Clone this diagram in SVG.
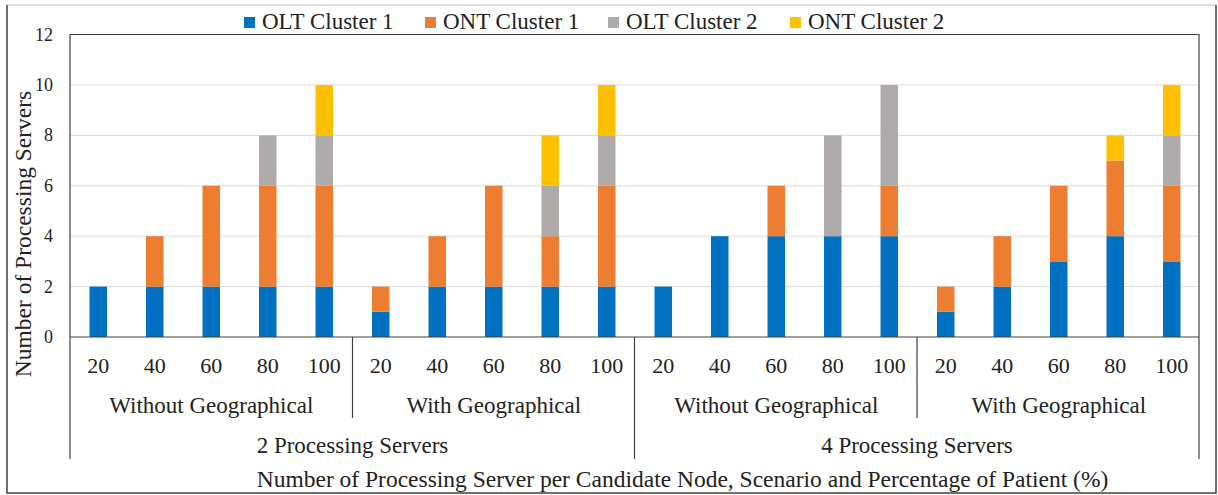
<svg xmlns="http://www.w3.org/2000/svg" width="1218" height="495" viewBox="0 0 1218 495" font-family="'Liberation Serif', Tinos, 'Times New Roman', 'DejaVu Serif', serif">
<style>
text{font-family:'Liberation Serif',Tinos,'Times New Roman','DejaVu Serif',serif;fill:#222}
.yt{font-size:18px;text-anchor:end}
.xt{font-size:22px;text-anchor:middle}
.gl{font-size:23px;text-anchor:middle}
.lg{font-size:23px}
.ttl{font-size:23.5px;text-anchor:middle}
.grid{stroke:#d9d9d9;stroke-width:1}
.ax{stroke:#404040;stroke-width:1.2;fill:none}
.b{fill:#0070C0}.o{fill:#ED7D31}.g{fill:#AEAAAA}.y{fill:#FFC000}
</style>
<rect x="0" y="0" width="1218" height="495" fill="#fff"/>
<g id="frame">
<line x1="7" y1="5" x2="1216" y2="5" stroke="#d0d0d0" stroke-width="1.5"/>
<path d="M7 5 V493 H1216 V5" fill="none" stroke="#404040" stroke-width="1.5"/>
</g>
<g id="gridlines">
<line class="grid" x1="70" y1="286.6" x2="1199" y2="286.6"/>
<line class="grid" x1="70" y1="236.2" x2="1199" y2="236.2"/>
<line class="grid" x1="70" y1="185.8" x2="1199" y2="185.8"/>
<line class="grid" x1="70" y1="135.4" x2="1199" y2="135.4"/>
<line class="grid" x1="70" y1="85" x2="1199" y2="85"/>
</g>
<g id="legend">
<rect class="b" x="244" y="17" width="11" height="11"/><text class="lg" x="262" y="29">OLT Cluster 1</text>
<rect class="o" x="425" y="17" width="11" height="11"/><text class="lg" x="443" y="29">ONT Cluster 1</text>
<rect class="g" x="608" y="17" width="11" height="11"/><text class="lg" x="626" y="29">OLT Cluster 2</text>
<rect class="y" x="790" y="17" width="11" height="11"/><text class="lg" x="808" y="29">ONT Cluster 2</text>
</g>
<g id="bars">
<rect class="b" x="89.5" y="286.6" width="17.5" height="50.4"/>
<rect class="b" x="146" y="286.6" width="17.5" height="50.4"/><rect class="o" x="146" y="236.2" width="17.5" height="50.4"/>
<rect class="b" x="202.5" y="286.6" width="17.5" height="50.4"/><rect class="o" x="202.5" y="185.8" width="17.5" height="100.8"/>
<rect class="b" x="259" y="286.6" width="17.5" height="50.4"/><rect class="o" x="259" y="185.8" width="17.5" height="100.8"/><rect class="g" x="259" y="135.4" width="17.5" height="50.4"/>
<rect class="b" x="315.5" y="286.6" width="17.5" height="50.4"/><rect class="o" x="315.5" y="185.8" width="17.5" height="100.8"/><rect class="g" x="315.5" y="135.4" width="17.5" height="50.4"/><rect class="y" x="315.5" y="85" width="17.5" height="50.4"/>
<rect class="b" x="372" y="311.8" width="17.5" height="25.2"/><rect class="o" x="372" y="286.6" width="17.5" height="25.2"/>
<rect class="b" x="428.5" y="286.6" width="17.5" height="50.4"/><rect class="o" x="428.5" y="236.2" width="17.5" height="50.4"/>
<rect class="b" x="485" y="286.6" width="17.5" height="50.4"/><rect class="o" x="485" y="185.8" width="17.5" height="100.8"/>
<rect class="b" x="541.5" y="286.6" width="17.5" height="50.4"/><rect class="o" x="541.5" y="236.2" width="17.5" height="50.4"/><rect class="g" x="541.5" y="185.8" width="17.5" height="50.4"/><rect class="y" x="541.5" y="135.4" width="17.5" height="50.4"/>
<rect class="b" x="598" y="286.6" width="17.5" height="50.4"/><rect class="o" x="598" y="185.8" width="17.5" height="100.8"/><rect class="g" x="598" y="135.4" width="17.5" height="50.4"/><rect class="y" x="598" y="85" width="17.5" height="50.4"/>
<rect class="b" x="654.5" y="286.6" width="17.5" height="50.4"/>
<rect class="b" x="711" y="236.2" width="17.5" height="100.8"/>
<rect class="b" x="767.5" y="236.2" width="17.5" height="100.8"/><rect class="o" x="767.5" y="185.8" width="17.5" height="50.4"/>
<rect class="b" x="824" y="236.2" width="17.5" height="100.8"/><rect class="g" x="824" y="135.4" width="17.5" height="100.8"/>
<rect class="b" x="880.5" y="236.2" width="17.5" height="100.8"/><rect class="o" x="880.5" y="185.8" width="17.5" height="50.4"/><rect class="g" x="880.5" y="85" width="17.5" height="100.8"/>
<rect class="b" x="937" y="311.8" width="17.5" height="25.2"/><rect class="o" x="937" y="286.6" width="17.5" height="25.2"/>
<rect class="b" x="993.5" y="286.6" width="17.5" height="50.4"/><rect class="o" x="993.5" y="236.2" width="17.5" height="50.4"/>
<rect class="b" x="1050" y="261.4" width="17.5" height="75.6"/><rect class="o" x="1050" y="185.8" width="17.5" height="75.6"/>
<rect class="b" x="1106.5" y="236.2" width="17.5" height="100.8"/><rect class="o" x="1106.5" y="160.6" width="17.5" height="75.6"/><rect class="y" x="1106.5" y="135.4" width="17.5" height="25.2"/>
<rect class="b" x="1163" y="261.4" width="17.5" height="75.6"/><rect class="o" x="1163" y="185.8" width="17.5" height="75.6"/><rect class="g" x="1163" y="135.4" width="17.5" height="50.4"/><rect class="y" x="1163" y="85" width="17.5" height="50.4"/>
</g>
<g id="axes">
<line class="ax" x1="70" y1="34.5" x2="1199" y2="34.5"/>
<line class="ax" x1="70" y1="34" x2="70" y2="459"/>
<line class="ax" x1="1199" y1="34" x2="1199" y2="459"/>
<line class="ax" x1="70" y1="337" x2="1199" y2="337"/>
<line class="ax" x1="352.5" y1="337" x2="352.5" y2="418"/>
<line class="ax" x1="634.5" y1="337" x2="634.5" y2="459"/>
<line class="ax" x1="917" y1="337" x2="917" y2="418"/>
</g>
<g id="y-ticks">
<text class="yt" x="53" y="343">0</text>
<text class="yt" x="53" y="292.6">2</text>
<text class="yt" x="53" y="242.2">4</text>
<text class="yt" x="53" y="191.8">6</text>
<text class="yt" x="53" y="141.4">8</text>
<text class="yt" x="53" y="91">10</text>
<text class="yt" x="53" y="40.6">12</text>
</g>
<g id="x-ticks">
<text class="xt" x="98.25" y="373">20</text><text class="xt" x="154.75" y="373">40</text><text class="xt" x="211.25" y="373">60</text><text class="xt" x="267.75" y="373">80</text><text class="xt" x="324.25" y="373">100</text>
<text class="xt" x="380.75" y="373">20</text><text class="xt" x="437.25" y="373">40</text><text class="xt" x="493.75" y="373">60</text><text class="xt" x="550.25" y="373">80</text><text class="xt" x="606.75" y="373">100</text>
<text class="xt" x="663.25" y="373">20</text><text class="xt" x="719.75" y="373">40</text><text class="xt" x="776.25" y="373">60</text><text class="xt" x="832.75" y="373">80</text><text class="xt" x="889.25" y="373">100</text>
<text class="xt" x="945.75" y="373">20</text><text class="xt" x="1002.25" y="373">40</text><text class="xt" x="1058.75" y="373">60</text><text class="xt" x="1115.25" y="373">80</text><text class="xt" x="1171.75" y="373">100</text>
</g>
<g id="group-labels">
<text class="gl" x="211.25" y="413">Without Geographical</text>
<text class="gl" x="493.75" y="413">With Geographical</text>
<text class="gl" x="776.25" y="413">Without Geographical</text>
<text class="gl" x="1058.75" y="413">With Geographical</text>
<text class="gl" x="352.5" y="453">2 Processing Servers</text>
<text class="gl" x="917" y="453">4 Processing Servers</text>
</g>
<g id="titles">
<text class="ttl" x="682.5" y="487">Number of Processing Server per Candidate Node, Scenario and Percentage of Patient (%)</text>
<text class="ttl" transform="translate(31 234) rotate(-90)">Number of Processing Servers</text>
</g>
</svg>
